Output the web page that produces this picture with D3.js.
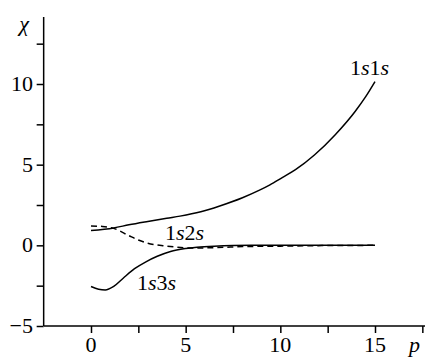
<!DOCTYPE html>
<html>
<head>
<meta charset="utf-8">
<script src="https://cdn.jsdelivr.net/npm/d3@7"></script>
<style>
  body { margin: 0; background: #fff; }
  svg text { font-family: "Liberation Serif"; }
</style>
</head>
<body>
<div id="chart"></div>
<script>
// values
var p1s1s = [0, 1.2, 2, 3, 4, 4.7, 5.8, 6.8, 8, 8.9, 9.45, 10.1, 10.8, 11.8, 12.9, 13.95, 14.5, 15];
var chi1s1s = [0.92, 1.08, 1.27, 1.48, 1.68, 1.81, 2.08, 2.44, 2.95, 3.42, 3.75, 4.2, 4.69, 5.6, 6.86, 8.3, 9.2, 10.15];

var p1s2s = [0, 0.6, 1.2, 2, 2.5, 3, 3.8, 4.4, 5.2, 6, 7, 8, 10, 12, 15];
var chi1s2s = [1.2, 1.17, 1.05, 0.6, 0.33, 0.13, -0.02, -0.1, -0.17, -0.16, -0.12, -0.08, -0.05, -0.02, 0];

var p1s3s = [0, 0.4, 0.75, 1.2, 1.7, 2.3, 2.9, 3.5, 4.2, 5, 5.6, 6.5, 7.5, 8.5, 10, 12, 15];
var chi1s3s = [-2.55, -2.72, -2.77, -2.55, -2.04, -1.45, -1.02, -0.68, -0.38, -0.2, -0.12, -0.05, -0.01, 0, 0, 0, 0];

var xMajor = [0, 5, 10, 15];
var xMinor = [2.5, 7.5, 12.5, 17.5];
var yMajor = [-5, 0, 5, 10];
var yMinor = [-2.5, 2.5, 7.5, 12.5];

var width = 425, height = 358;

var svg = d3.select("#chart")
  .append("svg")
    .attr("width", width)
    .attr("height", height);

var x = d3.scaleLinear().domain([0, 15]).range([91, 375]);
var y = d3.scaleLinear().domain([-5, 10]).range([326, 84]);

// axes
var xAxis = svg.append("g")
  .attr("transform", "translate(0," + y(-5) + ")")
  .call(d3.axisBottom(x).tickValues(xMajor.concat(xMinor)).tickSize(7).tickFormat(""));
xAxis.select(".domain").attr("d", "M44,0H425");

var yAxis = svg.append("g")
  .attr("transform", "translate(" + x(-2.5) + ",0)")
  .call(d3.axisLeft(y).tickValues(yMajor.concat(yMinor)).tickSize(7).tickFormat(""));
yAxis.select(".domain").attr("d", "M0," + y(-5) + "V17");

svg.selectAll(".domain, .tick line").attr("stroke", "#000").attr("stroke-width", 1.5);

// text helper: family set both as attribute and style
function txt(sel, size) {
  return sel.attr("font-family", "Liberation Serif")
    .style("font-family", "Liberation Serif")
    .style("font-size", size + "px");
}

txt(svg.append("g").selectAll("text")
  .data(xMajor)
  .enter()
  .append("text")
    .attr("x", function(d) { return x(d); })
    .attr("y", 352)
    .attr("text-anchor", "middle"), 22)
    .text(function(d) { return d; });

txt(svg.append("g").selectAll("text")
  .data(yMajor)
  .enter()
  .append("text")
    .attr("x", 33)
    .attr("y", function(d) { return y(d) + 7; })
    .attr("text-anchor", "end"), 22)
    .text(function(d) { return d < 0 ? "\u2212" + Math.abs(d) : d; });

txt(svg.append("text")
  .attr("x", 24).attr("y", 31)
  .attr("text-anchor", "middle"), 22)
  .style("font-style", "italic")
  .text("\u03c7");

txt(svg.append("text")
  .attr("x", 409).attr("y", 352), 22)
  .style("font-style", "italic")
  .text("p");

// curves
var line = d3.line()
  .x(function(d) { return x(d[0]); })
  .y(function(d) { return y(d[1]); })
  .curve(d3.curveMonotoneX);

function addCurve(ps, vs, dash) {
  svg.append("path")
    .datum(d3.zip(ps, vs))
    .attr("d", line)
    .attr("fill", "none")
    .attr("stroke", "#000")
    .attr("stroke-width", 1.5)
    .attr("stroke-dasharray", dash);
}
addCurve(p1s2s, chi1s2s, "6,4");
addCurve(p1s1s, chi1s1s, null);
addCurve(p1s3s, chi1s3s, null);

// curve labels
function addLabel(px, py, a, b) {
  var t = txt(svg.append("text")
    .attr("x", px).attr("y", py), 22);
  t.append("tspan").text(a);
  t.append("tspan").style("font-style", "italic").text("s");
  t.append("tspan").text(b);
  t.append("tspan").style("font-style", "italic").text("s");
}
addLabel(350, 75, "1", "1");
addLabel(165, 240, "1", "2");
addLabel(137, 290, "1", "3");
</script>
</body>
</html>
